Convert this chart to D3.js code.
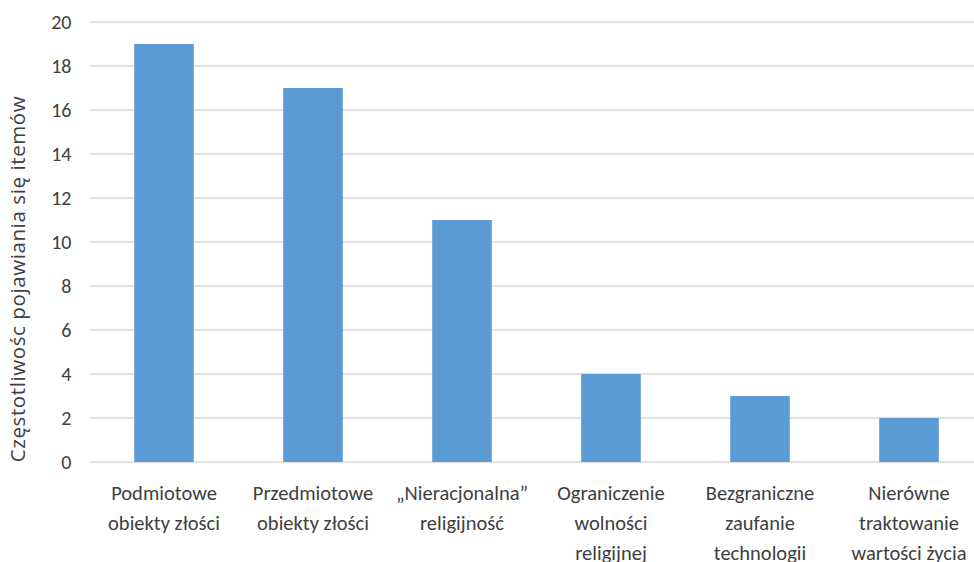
<!DOCTYPE html>
<html>
<head>
<meta charset="utf-8">
<script src="https://cdn.jsdelivr.net/npm/d3@7"></script>
<style>
  html, body { margin: 0; padding: 0; background: #fff; }
  svg { display: block; }
</style>
</head>
<body>
<svg id="chart" width="974" height="562"></svg>
<script>
// Kategorie (etykiety osi X, dzielone na linie)
const categories = [
  ["Podmiotowe", "obiekty złości"],
  ["Przedmiotowe", "obiekty złości"],
  ["„Nieracjonalna”", "religijność"],
  ["Ograniczenie", "wolności", "religijnej"],
  ["Bezgraniczne", "zaufanie", "technologii"],
  ["Nierówne", "traktowanie", "wartości życia"]
];
// Liczba pojawień się itemów
const values = [19, 17, 11, 4, 3, 2];
const yTicks = [0, 2, 4, 6, 8, 10, 12, 14, 16, 18, 20];
const yTitle = "Częstotliwośc pojawiania się itemów";

(function draw() {
  const svg = d3.select("#chart");
  const plotTop = 22, plotBottom = 462, plotLeft = 89.5, plotRight = 983.5;
  const labelFont = "Carlito, Lato, 'Open Sans', sans-serif";

  const x = d3.scaleBand()
    .domain(d3.range(categories.length))
    .range([plotLeft, plotRight])
    .paddingInner(0.6)
    .paddingOuter(0.3);

  const y = d3.scaleLinear().domain([0, 20]).range([plotBottom, plotTop]);

  // Linie siatki
  svg.append("g")
    .selectAll("line")
    .data(yTicks)
    .join("line")
    .attr("x1", plotLeft)
    .attr("x2", plotRight)
    .attr("y1", d => y(d))
    .attr("y2", d => y(d))
    .attr("stroke", "#d9d9d9")
    .attr("stroke-width", 1.5);

  // Słupki
  svg.append("g")
    .selectAll("rect")
    .data(values)
    .join("rect")
    .attr("x", (d, i) => x(i))
    .attr("width", x.bandwidth())
    .attr("y", d => y(d))
    .attr("height", d => y(0) - y(d))
    .attr("fill", "#5b9bd5");

  // Oś Y
  const yAxis = d3.axisLeft(y).tickValues(yTicks).tickSize(0).tickPadding(0);
  const gy = svg.append("g")
    .attr("transform", `translate(${plotLeft - 18},0)`)
    .call(yAxis);
  gy.select(".domain").remove();
  gy.selectAll("text")
    .attr("font-family", labelFont)
    .attr("font-size", 20)
    .attr("fill", "#404040");

  // Etykiety kategorii
  const gx = svg.append("g");
  categories.forEach((lines, i) => {
    const cx = x(i) + x.bandwidth() / 2;
    const t = gx.append("text")
      .attr("x", cx)
      .attr("y", 500)
      .attr("text-anchor", "middle")
      .attr("font-family", labelFont)
      .attr("font-size", 20.5)
      .attr("fill", "#404040");
    lines.forEach((line, j) => {
      t.append("tspan")
        .attr("x", cx)
        .attr("dy", j === 0 ? 0 : 30)
        .text(line);
    });
  });

  // Tytuł osi Y
  svg.append("text")
    .attr("transform", "translate(25,279) rotate(-90)")
    .attr("text-anchor", "middle")
    .attr("font-family", "'Open Sans', sans-serif")
    .attr("font-size", 20.5)
    .attr("letter-spacing", 0.6)
    .attr("fill", "#404040")
    .text(yTitle);
})();
</script>
</body>
</html>
